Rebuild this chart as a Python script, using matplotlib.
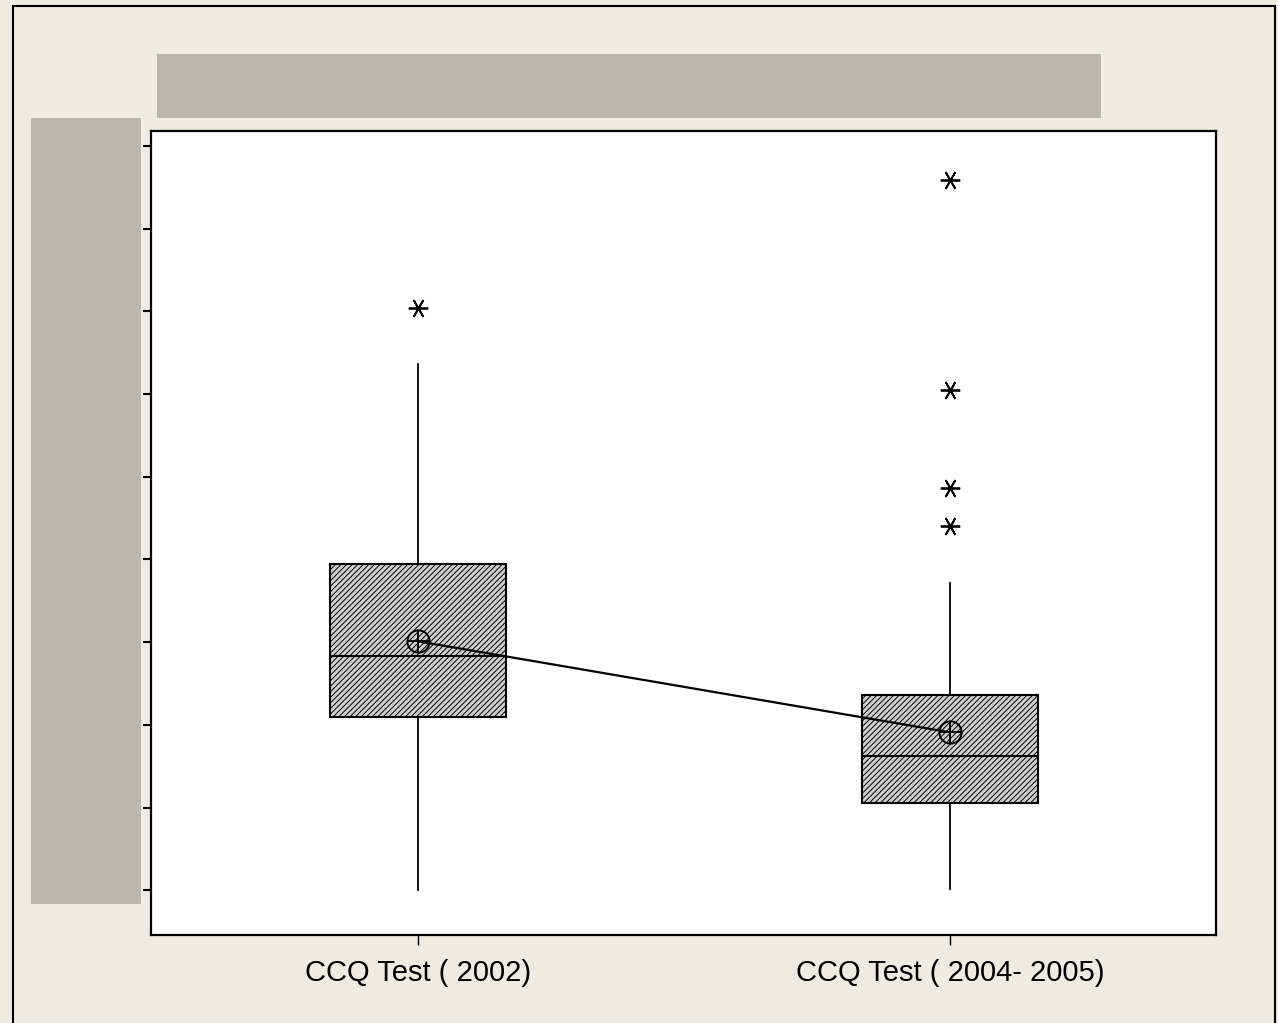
import numpy as np
import matplotlib.pyplot as plt
from matplotlib.patches import Rectangle

# values (y axis has hidden labels, units = tick steps)
groups = ['CCQ Test ( 2002)', 'CCQ Test ( 2004- 2005)']
whisk_lo = [0.00, 0.02]
q1 = [2.10, 1.05]
medians = [2.83, 1.63]
q3 = [3.95, 2.36]
whisk_hi = [6.36, 3.71]
means = [3.01, 1.91]
outliers = [[7.04], [8.59, 6.05, 4.86, 4.40]]
yticks = np.arange(0, 10)

plt.rcParams['hatch.linewidth'] = 0.7
plt.rcParams['font.family'] = ['Liberation Sans', 'DejaVu Sans']

fig = plt.figure(figsize=(12.78, 10.23), dpi=100)
fig.patch.set_facecolor('#efebe0')
ax = fig.add_axes([151/1278, 1 - 935/1023, (1216-151)/1278, (935-131)/1023])

stats = []
for i in range(len(groups)):
    stats.append(dict(whislo=whisk_lo[i], q1=q1[i], med=medians[i], q3=q3[i],
                      whishi=whisk_hi[i], fliers=outliers[i], mean=means[i],
                      label=groups[i]))

pos = np.arange(1, len(groups) + 1)
bp = ax.bxp(stats, positions=pos, widths=0.33, patch_artist=True, showcaps=False,
            boxprops=dict(facecolor='#cfcfcf', edgecolor='black', linewidth=1.5, hatch='//////'),
            medianprops=dict(color='black', linewidth=1.5),
            whiskerprops=dict(color='black', linewidth=1.3),
            flierprops=dict(marker=(6, 2, 90), markersize=14, markeredgecolor='black',
                            markeredgewidth=1.3, linestyle='none'))

# mean symbols and connecting line
ax.plot(pos, means, color='black', linewidth=1.6, zorder=4)
ax.plot(pos, means, 'o', markersize=16, markerfacecolor='none', markeredgecolor='black',
        markeredgewidth=1.4, zorder=5)
ax.plot(pos, means, '+', markersize=16, markeredgecolor='black', markeredgewidth=1.4, zorder=5)

ax.set_xlim(0.498, 2.5)
ax.set_ylim(-0.54, 9.18)
ax.set_yticks(yticks)
ax.set_yticklabels([])
ax.set_xticks(pos)
ax.set_xticklabels(groups, fontsize=21)
ax.tick_params(axis='y', direction='out', length=6, width=1.5)
ax.tick_params(axis='x', direction='out', length=7, width=1, pad=10)
for s in ax.spines.values():
    s.set_linewidth(1.6)

# grey blocks over title and y label, and the outer border
fig.patches.append(Rectangle((157/1278, 1 - 118/1023), (1101-157)/1278, 64/1023,
                             transform=fig.transFigure, facecolor='#b9b8ac', edgecolor='none', zorder=10))
fig.patches.append(Rectangle((31/1278, 1 - 904/1023), (141-31)/1278, (904-118)/1023,
                             transform=fig.transFigure, facecolor='#b9b8ac', edgecolor='none', zorder=10))
fig.patches.append(Rectangle((13/1278, -0.05), (1275-13)/1278, 1.05 - 6/1023,
                             transform=fig.transFigure, facecolor='none', edgecolor='black',
                             linewidth=1.5, zorder=11))

fig.savefig('out.png', dpi=100, facecolor=fig.get_facecolor())
